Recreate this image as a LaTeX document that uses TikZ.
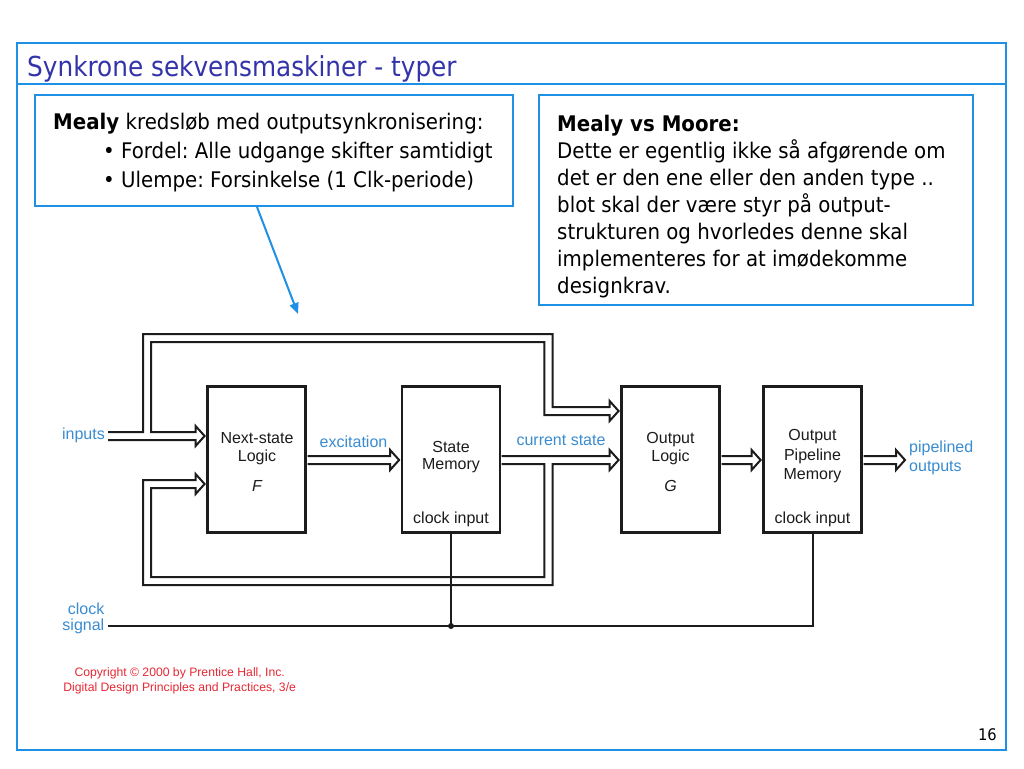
\documentclass[tikz,border=0pt]{standalone}
\usepackage{fontspec}
\newfontfamily\tahoma{DejaVu Sans}[FakeStretch=0.92]
\newfontfamily\tahomat{DejaVu Sans}[FakeStretch=0.9]
\newfontfamily\helv{Liberation Sans}
\usetikzlibrary{arrows.meta,calc}
\definecolor{frameblue}{RGB}{30,144,230}
\definecolor{titleblue}{RGB}{51,51,170}
\definecolor{lblblue}{RGB}{58,140,208}
\definecolor{copyred}{RGB}{232,40,52}
\definecolor{ink}{RGB}{28,28,28}
\frenchspacing
\begin{document}
\begin{tikzpicture}[x=1pt,y=-1pt,
  blk/.style={draw=ink, line width=2.8pt, minimum width=98pt, minimum height=146pt, inner sep=0pt},
  bus/.style={draw=ink, line width=2pt, line join=miter},
  wire/.style={draw=ink, line width=2pt},
  btxt/.style={font=\helv\fontsize{16}{19}\selectfont, text=ink, inner sep=0pt, anchor=base},
  lbl/.style={font=\helv\fontsize{16}{19}\selectfont, text=lblblue, inner sep=0pt},
  note/.style={draw=frameblue, line width=2pt, inner sep=0pt, anchor=north west},
  ntxt/.style={font=\tahoma\fontsize{21.5}{25}\selectfont, text=black, inner sep=0pt, anchor=base west},
  hhead/.style={insert path={-- ($(#1)+(-9,-4)$) -- ($(#1)+(-9,-10)$) -- (#1) -- ($(#1)+(-9,10)$) -- ($(#1)+(-9,4)$)}}
]
\fill[white] (0,0) rectangle (1024,768);
\useasboundingbox (0,0) rectangle (1024,768);

% slide frame
\draw[frameblue, line width=2pt] (17,43) rectangle (1006,750);
\draw[frameblue, line width=2pt] (17,84) -- (1006,84);
\node[anchor=base west, font=\tahomat\fontsize{27.5}{31}\selectfont, text=titleblue, inner sep=0pt] (title) at (27,76) {Synkrone sekvensmaskiner - typer};

% notes
\node[note, minimum width=478pt, minimum height=111pt] (mealy) at (34,94) {};
\node[ntxt] (m1) at (53,129.5) {\textbf{Mealy} kredsløb med outputsynkronisering:};
\node[ntxt] (m2) at (103,158) {• Fordel: Alle udgange skifter samtidigt};
\node[ntxt] (m3) at (103,187) {• Ulempe: Forsinkelse (1 Clk-periode)};

\node[note, minimum width=434pt, minimum height=210pt] (mvm) at (538,94) {};
\node[ntxt] (r1) at (557,131.5) {\textbf{Mealy vs Moore:}};
\node[ntxt] (r2) at (557,158.5) {Dette er egentlig ikke så afgørende om};
\node[ntxt] (r3) at (557,185.5) {det er den ene eller den anden type ..};
\node[ntxt] (r4) at (557,212.5) {blot skal der være styr på output-};
\node[ntxt] (r5) at (557,239.5) {strukturen og hvorledes denne skal};
\node[ntxt] (r6) at (557,266.5) {implementeres for at imødekomme};
\node[ntxt] (r7) at (557,293.5) {designkrav.};

\coordinate (ctip) at (298,314);
\draw[frameblue, line width=2pt, -{Triangle[length=11pt,width=9pt]}] ([xshift=223pt]mealy.south west) -- (ctip);

% blocks
\node[blk] (ns) at (256.5,459.5) {};
\node[blk] (sm) at (451,459.5) {};
\node[blk] (ol) at (670.5,459.5) {};
\node[blk] (pm) at (812.5,459.5) {};

\node[btxt] at (257,443) {Next-state};
\node[btxt] at (257,461) {Logic};
\node[btxt] at (257,491) {\itshape F};
\node[btxt] at (451,452) {State};
\node[btxt] at (451,469.5) {Memory};
\node[btxt] at (451,523) {clock input};
\node[btxt] at (670.5,443) {Output};
\node[btxt] at (670.5,461) {Logic};
\node[btxt] at (670.5,491) {\itshape G};
\node[btxt] at (812.5,440) {Output};
\node[btxt] at (812.5,460) {Pipeline};
\node[btxt] at (812.5,479) {Memory};
\node[btxt] at (812.5,523) {clock input};

% labels
\node[lbl, anchor=base east] at (105,439.5) {inputs};
\node[lbl, anchor=base] at (353.5,447.5) {excitation};
\node[lbl, anchor=base] at (561,445) {current state};
\node[lbl, anchor=base west] at (909,452) {pipelined};
\node[lbl, anchor=base west] at (909,471) {outputs};
\node[lbl, anchor=base east] at (104.5,614) {clock};
\node[lbl, anchor=base east] at (104.5,630) {signal};

% bus tips
\path (ns.west) ++(-1.5,-23.5) coordinate (tIn);
\path (ns.west) ++(-1.5,24.5) coordinate (tFb);
\path (sm.west) ++(-1.5,0.5) coordinate (tEx);
\path (ol.west) ++(-1.5,-48.5) coordinate (tTop);
\path (ol.west) ++(-1.5,0.5) coordinate (tCs);
\path (pm.west) ++(-1.5,0.5) coordinate (tG);
\coordinate (tOut) at (905,460);

% inputs + bus to output logic
\draw[bus] (108,432) -- (143,432) -- (143,334) -- (552.7,334) -- (552.7,407) [hhead=tTop]
  -- (544.3,415) -- (544.3,342) -- (151,342) -- (151,432) [hhead=tIn] -- (108,440);
% current state + feedback
\draw[bus] (501.5,456) [hhead=tCs] -- (552.7,464) -- (552.7,585) -- (143,585) -- (143,480) [hhead=tFb]
  -- (151,488) -- (151,577) -- (544.3,577) -- (544.3,464) -- (501.5,464);
% excitation
\draw[bus] (307.5,456) [hhead=tEx] -- (307.5,464);
% output logic -> pipeline
\draw[bus] (721.5,456) [hhead=tG] -- (721.5,464);
% pipelined outputs
\draw[bus] (863.5,456) [hhead=tOut] -- (863.5,464);

% clock
\coordinate (clk) at (108,626);
\draw[wire] (clk) -- (clk -| pm.south) -- (pm.south);
\draw[wire] (sm.south) -- (sm.south |- clk);
\fill[ink] (sm.south |- clk) circle (3);

% copyright
\node[font=\helv\fontsize{12.2}{15}\selectfont, text=copyred, inner sep=0pt, anchor=base] (cp1) at (179.7,676) {Copyright © 2000 by Prentice Hall, Inc.};
\node[font=\helv\fontsize{12.2}{15}\selectfont, text=copyred, inner sep=0pt, anchor=base] (cp2) at (179.7,691) {Digital Design Principles and Practices, 3/e};

\node[font=\tahoma\fontsize{16}{19}\selectfont, text=black, inner sep=0pt, anchor=base east] (pg) at (997,740) {16};
\end{tikzpicture}
\end{document}
